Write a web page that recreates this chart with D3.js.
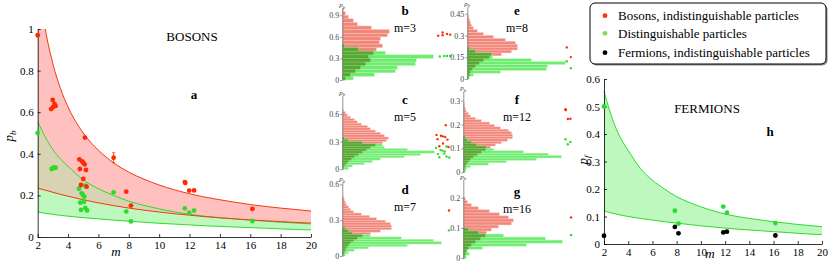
<!DOCTYPE html>
<html lang="en">
<head>
<meta charset="UTF-8" />
<title>Boson sampling</title>
<script src="https://d3js.org/d3.v7.min.js"></script>
<style>
  body { margin: 0; background: #fff; }
  svg text { font-family: "Liberation Serif", "Times New Roman", serif; }
  .axis path, .axis line { stroke: #000; stroke-width: 0.8; }
  .axis text { font-size: 11px; fill: #000; }
  .haxis path, .haxis line { stroke: #777; stroke-width: 0.8; }
  .haxis text { font-size: 8px; fill: #444; }
</style>
</head>
<body>
<svg id="chart" width="830" height="265"></svg>
<script>
// ---- theory bands ----
const mGrid       = [2, 2.5, 3, 3.5, 4, 5, 6, 7, 8, 9, 10, 11, 12, 13, 14, 15, 16, 17, 18, 19, 20];
const bosonUpper  = [1.25, 1.0, 0.833, 0.714, 0.625, 0.5, 0.417, 0.357, 0.312, 0.278, 0.25, 0.227, 0.208, 0.192, 0.179, 0.167, 0.156, 0.147, 0.139, 0.132, 0.125];
const bosonLower  = [0.235, 0.225, 0.215, 0.205, 0.196, 0.179, 0.164, 0.151, 0.139, 0.129, 0.12, 0.112, 0.105, 0.098, 0.092, 0.087, 0.082, 0.078, 0.074, 0.07, 0.067];
const distUpper   = [0.556, 0.48, 0.42, 0.375, 0.34, 0.275, 0.232, 0.2, 0.172, 0.152, 0.135, 0.121, 0.109, 0.1, 0.093, 0.087, 0.081, 0.076, 0.071, 0.067, 0.063];
const distLower   = [0.12, 0.114, 0.109, 0.104, 0.1, 0.093, 0.087, 0.081, 0.076, 0.071, 0.066, 0.062, 0.058, 0.054, 0.051, 0.048, 0.045, 0.042, 0.039, 0.036, 0.034];

// ---- measured points, panel a ----
const bosonM = [2, 2.88, 2.99, 3.1, 3.18, 2.99, 5.11, 4.74, 4.92, 5.0, 5.09, 4.78, 5.18, 5.0, 4.85, 5.22, 7.0, 7.83, 8.14, 11.69, 11.72, 11.98, 12.3, 16.14];
const bosonP = [0.97, 0.615, 0.659, 0.64, 0.63, 0.623, 0.478, 0.373, 0.364, 0.357, 0.349, 0.327, 0.322, 0.279, 0.25, 0.242, 0.381, 0.218, 0.151, 0.264, 0.26, 0.223, 0.224, 0.135];
const distM  = [2, 2.92, 3.03, 3.1, 3.18, 4.72, 5.14, 4.9, 4.98, 5.07, 4.8, 5.05, 5.14, 5.25, 4.85, 7.0, 7.83, 8.14, 11.69, 11.98, 12.3, 16.14];
const distP  = [0.5, 0.327, 0.333, 0.334, 0.333, 0.232, 0.247, 0.21, 0.202, 0.194, 0.165, 0.17, 0.139, 0.128, 0.13, 0.215, 0.122, 0.075, 0.138, 0.117, 0.127, 0.077];
const errM  = [7.0];
const errLo = [0.357];
const errHi = [0.405];

// ---- panel h ----
const fermM     = [2, 7.85, 8.15, 11.85, 12.15, 16.15];
const fermP     = [0.03, 0.062, 0.039, 0.042, 0.045, 0.031];
const fermDistM = [2, 7.85, 8.15, 11.85, 12.15, 16.15];
const fermDistP = [0.5, 0.121, 0.074, 0.136, 0.114, 0.076];

// ---- histograms (bin counts from p = 0 upward) ----
const bRed   = [3, 8, 13, 18, 23, 28, 26, 31, 34, 40, 37, 38, 45, 47, 29, 15, 11, 6, 3, 1];
const bGreen = [11, 32, 53, 55, 73, 74, 91, 43, 16, 2];
const cRed   = [1, 2, 4, 6, 9, 12, 16, 20, 24, 28, 33, 40, 44, 46, 42, 38, 33, 28, 25, 19, 15, 12, 8, 5, 3, 1];
const cGreen = [6, 10, 22, 30, 38, 62, 78, 92, 65, 42, 40, 20, 6, 2];
const dRed   = [1, 2, 3, 4, 6, 8, 11, 15, 20, 28, 38, 49, 49, 48, 43, 34, 27, 19, 11, 8, 6, 4, 3, 2, 1];
const dGreen = [3, 6, 12, 26, 65, 99, 91, 59, 28, 10, 6, 3];
const eRed   = [1, 2, 3, 5, 8, 12, 16, 22, 34, 44, 50, 50, 48, 38, 26, 16, 10, 6, 4, 3, 2, 1];
const eGreen = [2, 6, 33, 79, 80, 98, 64, 25, 24, 8, 2];
const fRed   = [1, 1, 2, 3, 5, 7, 10, 14, 18, 22, 27, 32, 38, 44, 49, 49, 48, 45, 37, 31, 26, 18, 12, 7, 5, 3, 2, 1, 1];
const fGreen = [2, 3, 7, 25, 43, 73, 98, 85, 60, 30, 23, 13, 8, 4, 2];
const gRed   = [1, 2, 3, 5, 8, 12, 17, 22, 23, 28, 35, 48, 50, 45, 36, 26, 15, 8, 4, 2];
const gGreen = [3, 6, 4, 19, 63, 99, 82, 40, 15, 5];

const RED = "#ff2a00", GREEN = "#2bdc2b";
const svg = d3.select("#chart");

// ================= panel a =================
const xa = d3.scaleLinear().domain([2, 20]).range([37.7, 311]);
const ya = d3.scaleLinear().domain([0, 1]).range([237, 29]);

svg.append("clipPath").attr("id", "clipA")
  .append("rect").attr("x", 37.7).attr("y", 29).attr("width", 311 - 37.7).attr("height", 208);

const gA = svg.append("g").attr("clip-path", "url(#clipA)");

function band(x, y, lo, hi) {
  return d3.area().curve(d3.curveMonotoneX)
    .x((d, i) => x(mGrid[i])).y0((d, i) => y(lo[i])).y1((d, i) => y(hi[i]));
}
function curve(x, y, arr) {
  return d3.line().curve(d3.curveMonotoneX).x((d, i) => x(mGrid[i])).y((d, i) => y(arr[i]));
}
const overlapLo = mGrid.map((d, i) => Math.max(bosonLower[i], distLower[i]));
const overlapHi = mGrid.map((d, i) => Math.max(overlapLo[i], Math.min(bosonUpper[i], distUpper[i])));

gA.append("path").datum(mGrid).attr("d", band(xa, ya, distLower, distUpper)).attr("fill", "#bff8bf");
gA.append("path").datum(mGrid).attr("d", band(xa, ya, bosonLower, bosonUpper)).attr("fill", "#ffc0c0");
gA.append("path").datum(mGrid).attr("d", band(xa, ya, overlapLo, overlapHi)).attr("fill", "#d9d3b3");
[distLower, distUpper].forEach(arr =>
  gA.append("path").datum(mGrid).attr("d", curve(xa, ya, arr)).attr("fill", "none").attr("stroke", GREEN).attr("stroke-width", 1));
[bosonLower, bosonUpper].forEach(arr =>
  gA.append("path").datum(mGrid).attr("d", curve(xa, ya, arr)).attr("fill", "none").attr("stroke", "#f03a14").attr("stroke-width", 1));

svg.append("g").attr("class", "axis").attr("transform", "translate(37.7,0)")
  .call(d3.axisLeft(ya).tickValues([0, 0.2, 0.4, 0.6, 0.8, 1]).tickSize(-3).tickSizeOuter(0).tickPadding(4)
    .tickFormat(d => d === 0 || d === 1 ? d : d.toFixed(1)));
svg.append("g").attr("class", "axis").attr("transform", "translate(0,237)")
  .call(d3.axisBottom(xa).tickValues(d3.range(2, 21, 2)).tickSize(-3).tickSizeOuter(0).tickPadding(4));

// error bar
errM.forEach((m, i) => {
  const e = svg.append("g").attr("stroke", RED).attr("stroke-width", 0.8);
  e.append("line").attr("x1", xa(m)).attr("x2", xa(m)).attr("y1", ya(errLo[i])).attr("y2", ya(errHi[i]));
  e.append("line").attr("x1", xa(m) - 1.5).attr("x2", xa(m) + 1.5).attr("y1", ya(errLo[i])).attr("y2", ya(errLo[i]));
  e.append("line").attr("x1", xa(m) - 1.5).attr("x2", xa(m) + 1.5).attr("y1", ya(errHi[i])).attr("y2", ya(errHi[i]));
});
svg.append("g").selectAll("circle").data(distM).join("circle")
  .attr("cx", d => xa(d)).attr("cy", (d, i) => ya(distP[i])).attr("r", 2.4).attr("fill", GREEN);
svg.append("g").selectAll("circle").data(bosonM).join("circle")
  .attr("cx", d => xa(d)).attr("cy", (d, i) => ya(bosonP[i])).attr("r", 2.4).attr("fill", RED);

svg.append("text").attr("x", 192).attr("y", 41).attr("text-anchor", "middle").attr("font-size", 13).text("BOSONS");
svg.append("text").attr("x", 194).attr("y", 99).attr("text-anchor", "middle").attr("font-size", 13).attr("font-weight", "bold").text("a");
svg.append("text").attr("x", 116).attr("y", 256).attr("text-anchor", "middle").attr("font-size", 13).attr("font-style", "italic").text("m");

function pLabel(x, y, sub, size, rotate) {
  const t = svg.append("text").attr("transform", `translate(${x},${y})` + (rotate ? " rotate(-90)" : ""))
    .attr("text-anchor", "middle").attr("font-size", size).attr("font-style", "italic");
  t.append("tspan").text("p");
  t.append("tspan").attr("font-size", size * 0.7).attr("dy", size * 0.25).text(sub);
  return t;
}
pLabel(13, 136, "b", 13, true);

// ================= histograms b–g =================
const panels = [
  { key: "b", m: 3,  red: bRed, green: bGreen, bin: 0.05,  ax: 342.3, y0: 80,    dom: 1.0,  top: 8,     ticks: [0, 0.3, 0.6, 0.9],   lx: 405, ly: 15,  dotX: 443, dotK: 40 },
  { key: "c", m: 5,  red: cRed, green: cGreen, bin: 0.025, ax: 342.3, y0: 169.3, dom: 0.8,  top: 95.5,  ticks: [0, 0.3, 0.6],        lx: 405, ly: 104, dotX: 443, dotK: 25 },
  { key: "d", m: 7,  red: dRed, green: dGreen, bin: 0.02,  ax: 342.3, y0: 256,   dom: 0.62, top: 182,   ticks: [0, 0.3, 0.6],        lx: 405, ly: 194, dotX: 449, dotK: 20 },
  { key: "e", m: 8,  red: eRed, green: eGreen, bin: 0.02,  ax: 467.3, y0: 79,    dom: 0.5,  top: 6.5,   ticks: [0, 0.15, 0.3, 0.45], lx: 517, ly: 15,  dotX: 569, dotK: 13 },
  { key: "f", m: 12, red: fRed, green: fGreen, bin: 0.01,  ax: 463.3, y0: 172.3, dom: 0.34, top: 91,    ticks: [0, 0.1, 0.2, 0.3],   lx: 517, ly: 104, dotX: 568, dotK: 8 },
  { key: "g", m: 16, red: gRed, green: gGreen, bin: 0.01,  ax: 463.3, y0: 258.3, dom: 0.26, top: 179.5, ticks: [0, 0.1, 0.2],        lx: 517, ly: 196, dotX: 570, dotK: 8 }
];

panels.forEach(p => {
  const y = d3.scaleLinear().domain([0, p.dom]).range([p.y0, p.top]);
  const x = d3.scaleLinear().domain([0, 100]).range([p.ax, p.ax + 100]);
  const g = svg.append("g");
  const bh = y(0) - y(p.bin);
  const overlap = p.green.map((v, i) => Math.min(v, p.red[i] || 0));
  function bars(arr, fill, stroke) {
    g.append("g").selectAll("rect").data(arr).join("rect")
      .attr("x", x(0)).attr("y", (d, i) => y((i + 1) * p.bin))
      .attr("width", d => x(d) - x(0)).attr("height", bh)
      .attr("fill", fill).attr("stroke", stroke).attr("stroke-width", 0.5);
  }
  bars(p.red, "#f2867a", "#fac4bc");
  bars(p.green, "#6eec6e", "#b8f7b8");
  bars(overlap, "#58a634", "#8cc870");

  g.append("g").attr("class", "haxis").attr("transform", `translate(${p.ax},0)`)
    .call(d3.axisLeft(y).tickValues(p.ticks).tickSize(2).tickSizeOuter(0).tickPadding(1)
      .tickFormat(d => d === 0 ? "0" : String(d)));

  const t = g.append("text").attr("x", p.ax).attr("y", p.top - 1).attr("text-anchor", "middle")
    .attr("font-size", 7).attr("font-style", "italic").attr("fill", "#444");
  t.append("tspan").text("p");
  t.append("tspan").attr("font-size", 5).attr("dy", 1.5).text("b");

  g.append("text").attr("x", p.lx).attr("y", p.ly).attr("text-anchor", "middle")
    .attr("font-size", 13).attr("font-weight", "bold").text(p.key);
  g.append("text").attr("x", p.lx).attr("y", p.ly + 17).attr("text-anchor", "middle")
    .attr("font-size", 12).text("m=" + p.m);

  const near = m => Math.abs(m - p.m) < 0.6;
  const dx = m => p.dotX + (m - p.m) * p.dotK;
  distM.forEach((m, i) => { if (near(m)) g.append("circle").attr("cx", dx(m)).attr("cy", y(distP[i])).attr("r", 1.2).attr("fill", GREEN); });
  bosonM.forEach((m, i) => { if (near(m)) g.append("circle").attr("cx", dx(m)).attr("cy", y(bosonP[i])).attr("r", 1.2).attr("fill", RED); });
});

// ================= legend =================
svg.append("rect").attr("x", 591.5).attr("y", 4.5).attr("width", 236).attr("height", 61).attr("rx", 5)
  .attr("fill", "#888");
svg.append("rect").attr("x", 590).attr("y", 3).attr("width", 236).attr("height", 61).attr("rx", 5)
  .attr("fill", "#fff").attr("stroke", "#000").attr("stroke-width", 1);
const legendText = ["Bosons, indistinguishable particles", "Distinguishable particles", "Fermions, indistinguishable particles"];
const legendColor = ["#ff3300", "#8ad65e", "#000"];
legendText.forEach((s, i) => {
  svg.append("circle").attr("cx", 605).attr("cy", [15.7, 33.3, 52.7][i]).attr("r", 2.4).attr("fill", legendColor[i]);
  svg.append("text").attr("x", 618).attr("y", [19.5, 37.5, 57][i]).attr("font-size", 13).text(s);
});

// ================= panel h =================
const xh = d3.scaleLinear().domain([2, 20]).range([604, 822]);
const yh = d3.scaleLinear().domain([0, 0.6]).range([244, 79]);
svg.append("path").datum(mGrid).attr("d", band(xh, yh, distLower, distUpper)).attr("fill", "#bff8bf");
[distLower, distUpper].forEach(arr =>
  svg.append("path").datum(mGrid).attr("d", curve(xh, yh, arr)).attr("fill", "none").attr("stroke", GREEN).attr("stroke-width", 1));
svg.append("g").attr("class", "axis").attr("transform", "translate(604,0)")
  .call(d3.axisLeft(yh).tickValues([0, 0.1, 0.2, 0.3, 0.4, 0.5, 0.6]).tickSize(-3).tickSizeOuter(0).tickPadding(4)
    .tickFormat(d => d === 0 ? "0" : d.toFixed(1)));
svg.append("g").attr("class", "axis").attr("transform", "translate(0,244)")
  .call(d3.axisBottom(xh).tickValues(d3.range(2, 21, 2)).tickSize(-3).tickSizeOuter(0).tickPadding(4));
svg.append("g").selectAll("circle").data(fermDistM).join("circle")
  .attr("cx", d => xh(d)).attr("cy", (d, i) => yh(fermDistP[i])).attr("r", 2.4).attr("fill", GREEN);
svg.append("g").selectAll("circle").data(fermM).join("circle")
  .attr("cx", d => xh(d)).attr("cy", (d, i) => yh(fermP[i])).attr("r", 2.4).attr("fill", "#000");
svg.append("text").attr("x", 707).attr("y", 113).attr("text-anchor", "middle").attr("font-size", 13).text("FERMIONS");
svg.append("text").attr("x", 770).attr("y", 136).attr("text-anchor", "middle").attr("font-size", 13).attr("font-weight", "bold").text("h");
svg.append("text").attr("x", 710).attr("y", 258).attr("text-anchor", "middle").attr("font-size", 13).attr("font-style", "italic").text("m");
pLabel(587, 160, "f", 13, true);
</script>
</body>
</html>
